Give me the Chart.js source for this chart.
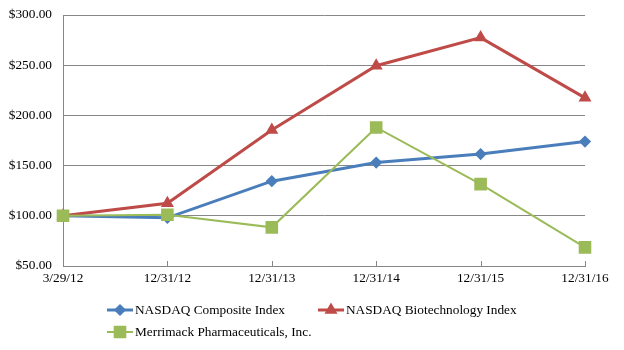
<!DOCTYPE html>
<html>
<head>
<meta charset="utf-8">
<script src="https://cdn.jsdelivr.net/npm/chart.js@4/dist/chart.umd.min.js"></script>
<style>
  html, body { margin: 0; padding: 0; background: #fff; }
  #wrap { width: 624px; height: 350px; }
</style>
</head>
<body>
<div id="wrap"><canvas id="c" width="624" height="350"></canvas></div>
<script>
const categories = ['3/29/12', '12/31/12', '12/31/13', '12/31/14', '12/31/15', '12/31/16'];
const nasdaqComposite = [100, 98, 134.5, 153, 161.5, 174];
const nasdaqBiotech = [100, 112.5, 185.5, 249.5, 277.5, 217.5];
const merrimack = [100, 101, 88.5, 188, 131.5, 68.5];
const seriesNames = ['NASDAQ Composite Index', 'NASDAQ Biotechnology Index', 'Merrimack Pharmaceuticals, Inc.'];
const yTicks = { min: 50, max: 300, step: 50 };

const FONT = "'Liberation Serif', 'Times New Roman', serif";
const BLUE = '#4a7ebb', RED = '#be4b48', GREEN = '#9bbb59', GRID = '#878787';

// x tick marks drawn inside the plot, above the axis line
const innerTicks = {
  id: 'innerTicks',
  beforeDatasetsDraw(chart) {
    const x = chart.scales.x, ctx = chart.ctx, b = chart.chartArea.bottom;
    ctx.save();
    ctx.strokeStyle = GRID; ctx.lineWidth = 1;
    for (let i = 0; i < categories.length; i++) {
      const px = Math.round(x.getPixelForTick(i)) + 0.5;
      ctx.beginPath(); ctx.moveTo(px, b - 5); ctx.lineTo(px, b); ctx.stroke();
    }
    ctx.restore();
  }
};

// legend with line + marker swatches, laid out like the original
const customLegend = {
  id: 'customLegend',
  afterDraw(chart) {
    const ctx = chart.ctx;
    const items = [
      { ds: 0, x: 107, y: 310 },
      { ds: 1, x: 318, y: 310 },
      { ds: 2, x: 107, y: 332 }
    ];
    ctx.save();
    items.forEach(it => {
      const d = chart.data.datasets[it.ds];
      ctx.strokeStyle = d.borderColor;
      ctx.lineWidth = d.borderWidth;
      ctx.beginPath(); ctx.moveTo(it.x, it.y); ctx.lineTo(it.x + 26, it.y); ctx.stroke();
      Chart.helpers.drawPoint(ctx, {
        pointStyle: d.pointStyle, radius: d.pointRadius, rotation: 0, borderWidth: 1
      }, it.x + 13, it.y);
      ctx.fillStyle = d.pointBackgroundColor;
      ctx.fill();
      ctx.fillStyle = '#000';
      ctx.font = '13.3px ' + FONT;
      ctx.textBaseline = 'middle';
      ctx.textAlign = 'left';
      ctx.fillText(d.label, it.x + 28, it.y + 1);
    });
    ctx.restore();
  }
};

new Chart(document.getElementById('c'), {
  type: 'line',
  data: {
    labels: categories,
    datasets: [
      { label: seriesNames[0], data: nasdaqComposite, borderColor: BLUE, backgroundColor: BLUE,
        pointBackgroundColor: BLUE, pointBorderColor: BLUE, borderWidth: 3,
        pointStyle: 'rectRot', pointRadius: 4, order: 2, tension: 0 },
      { label: seriesNames[1], data: nasdaqBiotech, borderColor: RED, backgroundColor: RED,
        pointBackgroundColor: RED, pointBorderColor: RED, borderWidth: 3,
        pointStyle: 'triangle', pointRadius: 4.5, order: 1, tension: 0 },
      { label: seriesNames[2], data: merrimack, borderColor: GREEN, backgroundColor: GREEN,
        pointBackgroundColor: GREEN, pointBorderColor: GREEN, borderWidth: 2,
        pointStyle: 'rect', pointRadius: 7.5, order: 0, tension: 0 }
    ]
  },
  options: {
    responsive: false,
    devicePixelRatio: 1,
    animation: false,
    layout: { padding: { left: 0, top: 15, right: 39, bottom: 60 } },
    plugins: { legend: { display: false }, tooltip: { enabled: false } },
    scales: {
      x: {
        offset: false,
        grid: { display: false, drawTicks: false },
        border: { display: true, color: GRID, width: 1 },
        ticks: { color: '#000', font: { family: FONT, size: 13.3 }, padding: 5, maxRotation: 0, autoSkip: false },
        afterFit(s) { s.height = 24; }
      },
      y: {
        min: yTicks.min, max: yTicks.max,
        grid: { color: GRID, lineWidth: 1, drawTicks: true, tickLength: 11, tickColor: 'rgba(0,0,0,0)' },
        border: { display: true, color: GRID, width: 1 },
        ticks: { stepSize: yTicks.step, color: '#000', font: { family: FONT, size: 13.3 }, padding: 0,
          callback: v => '$' + Number(v).toFixed(2) },
        afterFit(s) { s.width = 63; }
      }
    }
  },
  plugins: [innerTicks, customLegend]
});
</script>
</body>
</html>
